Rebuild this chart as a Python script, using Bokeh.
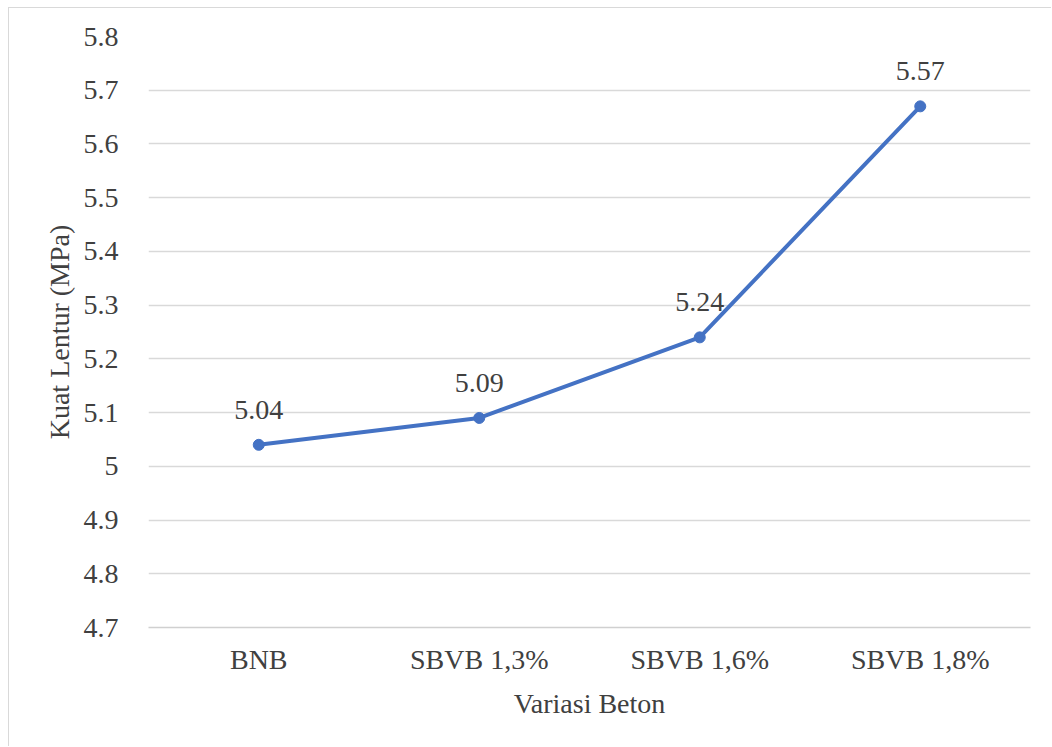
from bokeh.plotting import figure
from bokeh.models import (ColumnDataSource, LabelSet, FixedTicker, CustomJSTickFormatter,
                          FactorRange, Range1d)
from bokeh.core.properties import value
from bokeh.embed import file_html
from bokeh.resources import INLINE

categories = ["BNB", "SBVB 1,3%", "SBVB 1,6%", "SBVB 1,8%"]
values = [5.04, 5.09, 5.24, 5.67]
value_labels = ["5.04", "5.09", "5.24", "5.57"]
y_ticks = [4.7, 4.8, 4.9, 5.0, 5.1, 5.2, 5.3, 5.4, 5.5, 5.6, 5.7, 5.8]
x_title = "Variasi Beton"
y_title = "Kuat Lentur (MPa)"

FONT = "Liberation Serif"
TXT = "#404040"
BLUE = "#4472C4"
FS = "28px"

src = ColumnDataSource(dict(cat=categories, val=values, lab=value_labels))

p = figure(width=1043, height=739, x_range=FactorRange(*categories),
           y_range=Range1d(4.7, 5.8), output_backend="svg", toolbar_location=None,
           min_border_left=139, min_border_right=22, min_border_top=28, min_border_bottom=120)
p.styles = {"margin-left": "8px", "margin-top": "7px",
            "border-left": "1px solid #d9d9d9", "border-top": "1px solid #d9d9d9"}
p.outline_line_color = None
p.background_fill_color = "white"
p.border_fill_color = "white"

p.line("cat", "val", source=src, line_color=BLUE, line_width=4)
p.scatter("cat", "val", source=src, size=11, fill_color=BLUE, line_color=BLUE)

labels = LabelSet(x="cat", y="val", text="lab", source=src, y_offset=26,
                  text_align="center", text_baseline="alphabetic",
                  text_font=value(FONT), text_font_size=value(FS), text_color=TXT)
p.add_layout(labels)

# grid
p.xgrid.grid_line_color = None
p.ygrid.grid_line_color = "#d9d9d9"
p.ygrid.grid_line_width = 1.5
p.yaxis.ticker = FixedTicker(ticks=y_ticks)
p.yaxis.formatter = CustomJSTickFormatter(code="return tick.toFixed(1).replace(/\\.0$/, '');")

for ax in (p.xaxis[0], p.yaxis[0]):
    ax.major_tick_line_color = None
    ax.minor_tick_line_color = None
    ax.major_label_text_font = FONT
    ax.major_label_text_font_size = FS
    ax.major_label_text_color = TXT
    ax.axis_label_text_font = FONT
    ax.axis_label_text_font_size = FS
    ax.axis_label_text_font_style = "normal"
    ax.axis_label_text_color = TXT

p.yaxis.axis_line_color = None
p.yaxis.major_label_standoff = 24
p.yaxis.axis_label = y_title
p.yaxis.axis_label_standoff = 6

p.xaxis.axis_line_color = "#d0d0d0"
p.xaxis.axis_line_width = 1.5
p.xaxis.major_label_standoff = 10
p.xaxis.axis_label = x_title
p.xaxis.axis_label_standoff = 10

open("out.html", "w").write(file_html(p, INLINE))
